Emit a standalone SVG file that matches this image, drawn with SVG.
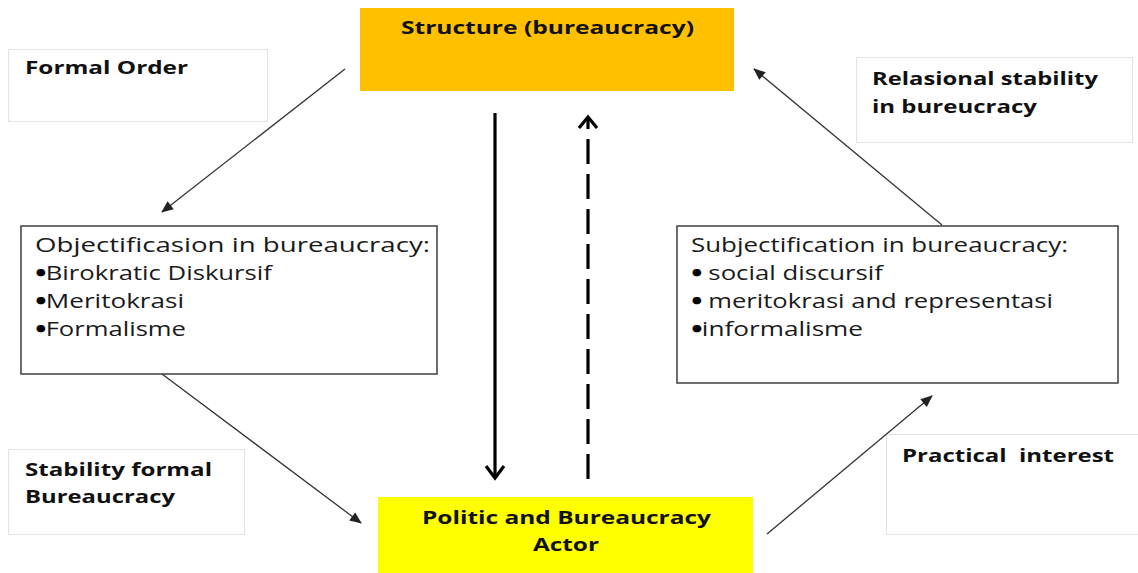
<svg xmlns="http://www.w3.org/2000/svg" width="1138" height="573" viewBox="0 0 1138 573">
  <style>
    .bg { fill: #ffffff; }
    .label-box { fill: #ffffff; stroke: #e2e2e2; stroke-width: 1; }
    .list-box { fill: #ffffff; stroke: #4a4a4a; stroke-width: 1.6; }
    .head { font-family: "Open Sans", "Liberation Sans", sans-serif; font-weight: bold; font-size: 18px; fill: #111111; }
    .body { font-family: "Open Sans", "Liberation Sans", sans-serif; font-size: 20px; fill: #1a1a1a; }
    .dot { fill: #000000; stroke: #000000; stroke-width: 2.6; stroke-linejoin: round; }
    .thin { fill: none; stroke: #333333; stroke-width: 1.3; }
    .thick { fill: none; stroke: #000000; stroke-width: 3.2; }
    .dashed { stroke-dasharray: 25 10; }
  </style>
  <defs>
    <marker id="tri" markerUnits="userSpaceOnUse" markerWidth="12" markerHeight="10" viewBox="0 0 12 10" refX="11" refY="5" orient="auto" overflow="visible">
      <path d="M0,0 L12,5 L0,10 z" fill="#222222"/>
    </marker>
  </defs>

  <rect class="bg" x="0" y="0" width="1138" height="573"/>

  <!-- main structure node -->
  <g id="structure">
    <rect x="360" y="8" width="374" height="83" fill="#FFC000"/>
    <text class="head" x="401" y="34" textLength="293" lengthAdjust="spacingAndGlyphs">Structure (bureaucracy)</text>
  </g>

  <!-- actor node -->
  <g id="actor">
    <rect x="378" y="497" width="375" height="80" fill="#FFFF00"/>
    <text class="head" x="422" y="524" textLength="289" lengthAdjust="spacingAndGlyphs">Politic and Bureaucracy</text>
    <text class="head" x="533" y="551" textLength="66" lengthAdjust="spacingAndGlyphs">Actor</text>
  </g>

  <!-- objectification list -->
  <g id="objectification">
    <rect class="list-box" x="21" y="226" width="416" height="148"/>
    <text class="body" x="35" y="252" textLength="395" lengthAdjust="spacingAndGlyphs">Objectificasion in bureaucracy:</text>
    <text class="body" x="36" y="280" textLength="236" lengthAdjust="spacingAndGlyphs"><tspan class="dot">•</tspan>Birokratic Diskursif</text>
    <text class="body" x="36" y="308" textLength="148" lengthAdjust="spacingAndGlyphs"><tspan class="dot">•</tspan>Meritokrasi</text>
    <text class="body" x="36" y="336" textLength="150" lengthAdjust="spacingAndGlyphs"><tspan class="dot">•</tspan>Formalisme</text>
  </g>

  <!-- subjectification list -->
  <g id="subjectification">
    <rect class="list-box" x="677" y="226" width="441" height="157"/>
    <text class="body" x="691" y="252" textLength="377" lengthAdjust="spacingAndGlyphs">Subjectification in bureaucracy:</text>
    <text class="body" x="692" y="280" textLength="191" lengthAdjust="spacingAndGlyphs"><tspan class="dot">•</tspan> social discursif</text>
    <text class="body" x="692" y="308" textLength="361" lengthAdjust="spacingAndGlyphs"><tspan class="dot">•</tspan> meritokrasi and representasi</text>
    <text class="body" x="692" y="336" textLength="171" lengthAdjust="spacingAndGlyphs"><tspan class="dot">•</tspan>informalisme</text>
  </g>

  <!-- side labels -->
  <g id="formal-order">
    <rect class="label-box" x="8.5" y="49.5" width="259" height="72"/>
    <text class="head" x="25" y="74" textLength="163" lengthAdjust="spacingAndGlyphs">Formal Order</text>
  </g>
  <g id="relational-stability">
    <rect class="label-box" x="856.5" y="57.5" width="276" height="85"/>
    <text class="head" x="872" y="85" textLength="226" lengthAdjust="spacingAndGlyphs">Relasional stability</text>
    <text class="head" x="872" y="113" textLength="165" lengthAdjust="spacingAndGlyphs">in bureucracy</text>
  </g>
  <g id="formal-stability">
    <rect class="label-box" x="8.5" y="449.5" width="236" height="85"/>
    <text class="head" x="25" y="476" textLength="187" lengthAdjust="spacingAndGlyphs">Stability formal</text>
    <text class="head" x="25" y="503" textLength="150" lengthAdjust="spacingAndGlyphs">Bureaucracy</text>
  </g>
  <g id="practical-interest">
    <rect class="label-box" x="886.5" y="434.5" width="262" height="100"/>
    <text class="head" x="902" y="462" textLength="212" lengthAdjust="spacingAndGlyphs" xml:space="preserve">Practical  interest</text>
  </g>

  <!-- connectors -->
  <g id="connectors">
    <line class="thin" x1="345" y1="69" x2="162" y2="212" marker-end="url(#tri)"/>
    <line class="thin" x1="162" y1="374" x2="361" y2="523" marker-end="url(#tri)"/>
    <line class="thin" x1="767" y1="534" x2="932" y2="396" marker-end="url(#tri)"/>
    <line class="thin" x1="942" y1="225" x2="754" y2="69" marker-end="url(#tri)"/>

    <!-- structure shapes the actor -->
    <line class="thick" x1="495" y1="113" x2="495" y2="477"/>
    <polyline class="thick" points="486,466 495,478 504,466"/>

    <!-- actor reshapes the structure -->
    <line class="thick dashed" x1="588" y1="479" x2="588" y2="118"/>
    <polyline class="thick" points="579,128 588,117 597,128"/>
  </g>
</svg>
